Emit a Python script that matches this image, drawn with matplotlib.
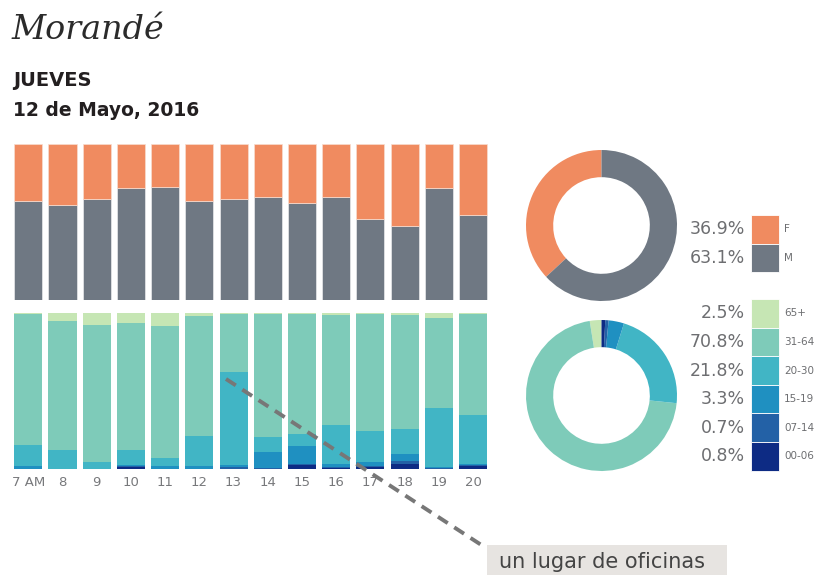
import numpy as np
import matplotlib
matplotlib.use('Agg')
import matplotlib.pyplot as plt
from matplotlib.patches import Rectangle

# horas y datos por barra (porcentajes)
horas = ['7 AM', '8', '9', '10', '11', '12', '13', '14', '15', '16', '17', '18', '19', '20']
fem = [36.6, 39.6, 35.5, 28.7, 27.9, 36.6, 35.5, 34.0, 38.1, 34.0, 48.5, 53.0, 28.7, 46.0]
masc = [100 - f for f in fem]

edad_00_06 = [0.2, 0, 0, 1.1, 0, 0, 0, 0, 2.6, 0.6, 1.3, 3.2, 0, 1.7]
edad_07_14 = [0, 0, 0, 0.6, 0, 0, 1.1, 0.6, 0.6, 0.6, 0.4, 1.7, 0.6, 0.6]
edad_15_19 = [1.5, 0, 0, 0.6, 1.7, 1.7, 1.7, 10.5, 11.3, 2.1, 2.6, 4.5, 0.4, 1.1]
edad_20_30 = [13.9, 12.0, 4.3, 9.6, 5.1, 19.2, 59.6, 9.6, 7.9, 25.0, 19.9, 16.5, 37.8, 31.0]
edad_31_64 = [83.8, 83.1, 88.2, 81.4, 84.8, 76.9, 37.2, 78.8, 77.1, 70.1, 75.4, 72.6, 57.7, 65.2]
edad_65 = [0.6, 4.9, 7.5, 6.6, 8.3, 2.1, 0.4, 0.5, 0.5, 1.5, 0.4, 1.5, 3.4, 0.4]

# totales del dia
sexo_lab = ['F', 'M']
sexo_tot = [36.9, 63.1]
edad_lab = ['65+', '31-64', '20-30', '15-19', '07-14', '00-06']
edad_tot = [2.5, 70.8, 21.8, 3.3, 0.7, 0.8]

c_sexo = ['#f08b60', '#6f7883']
c_edad = ['#c6e6b4', '#7ecbb9', '#41b5c5', '#1f90c1', '#2361a6', '#0d2b84']
gris_txt = '#6d6e71'

W, H = 820, 575
fig = plt.figure(figsize=(W / 100, H / 100), dpi=100)


def caja(l, t, r, b):
    return [l / W, 1 - b / H, (r - l) / W, (b - t) / H]


x = np.arange(len(horas))
ancho = 0.82

# barras sexo
ax1 = fig.add_axes(caja(11.2, 143.5, 490.1, 300))
ax1.bar(x, masc, ancho, color=c_sexo[1], edgecolor='#e9e9ec', lw=0.5)
ax1.bar(x, fem, ancho, bottom=masc, color=c_sexo[0], edgecolor='#f7ddd0', lw=0.5)
ax1.set_xlim(-0.5, len(horas) - 0.5)
ax1.set_ylim(0, 100)
ax1.axis('off')

# barras edad, de abajo hacia arriba
ax2 = fig.add_axes(caja(11.2, 313, 490.1, 469))
capas = [edad_00_06, edad_07_14, edad_15_19, edad_20_30, edad_31_64, edad_65]
colores_capas = c_edad[::-1]
base = np.zeros(len(horas))
for vals, col in zip(capas, colores_capas):
    ax2.bar(x, vals, ancho, bottom=base, color=col, lw=0)
    base = base + np.array(vals)
ax2.set_xlim(-0.5, len(horas) - 0.5)
ax2.set_ylim(0, 100)
ax2.set_xticks(x, horas, color='#77787b', fontsize=9.5)
ax2.tick_params(length=0, pad=5)
ax2.set_yticks([])
for s in ax2.spines.values():
    s.set_visible(False)

# donas
axd1 = fig.add_axes(caja(526, 150, 677, 301))
axd1.pie(sexo_tot, colors=c_sexo, startangle=90, counterclock=True,
         wedgeprops=dict(width=0.36, lw=0))
axd1.set_xlim(-1, 1)
axd1.set_ylim(-1, 1)

axd2 = fig.add_axes(caja(526, 320, 677, 471))
axd2.pie(edad_tot, colors=c_edad, startangle=90, counterclock=True,
         wedgeprops=dict(width=0.36, lw=0))
axd2.set_xlim(-1, 1)
axd2.set_ylim(-1, 1)

# capa de textos y leyendas en pixeles
top = fig.add_axes([0, 0, 1, 1], zorder=5)
top.set_xlim(0, W)
top.set_ylim(H, 0)
top.axis('off')
top.patch.set_alpha(0)

top.text(12, 30, 'Morandé', family='DejaVu Serif', style='italic', fontsize=24,
         color='#2b2b2b', va='center', ha='left')
top.text(13, 80, 'JUEVES', fontsize=14, weight='bold', color='#231f20', va='center')
top.text(13, 110, '12 de Mayo, 2016', fontsize=13.5, weight='bold', color='#231f20', va='center')


def leyenda(y0, etiquetas, valores, colores):
    alto = 28.6
    for i, (e, v, c) in enumerate(zip(etiquetas, valores, colores)):
        y = y0 + i * alto
        top.add_patch(Rectangle((751, y), 28, alto, facecolor=c, edgecolor='white', lw=0.6))
        top.text(745, y + alto / 2, f'{v:.1f}%', ha='right', va='center',
                 fontsize=12.5, color=gris_txt)
        top.text(784, y + alto / 2, e, ha='left', va='center', fontsize=7.5, color=gris_txt)


leyenda(215, sexo_lab, sexo_tot, c_sexo)
leyenda(299, edad_lab, edad_tot, c_edad)

# nota
top.plot([226, 486], [379, 548], ls=(0, (3, 2)), lw=2.8, color='#777777')
top.add_patch(Rectangle((487, 545), 240, 35, facecolor='#e7e4e1', edgecolor='none'))
top.text(499, 562, 'un lugar de oficinas', fontsize=15, color='#444444', va='center',
         ha='left')

fig.savefig('out.png', dpi=100)
